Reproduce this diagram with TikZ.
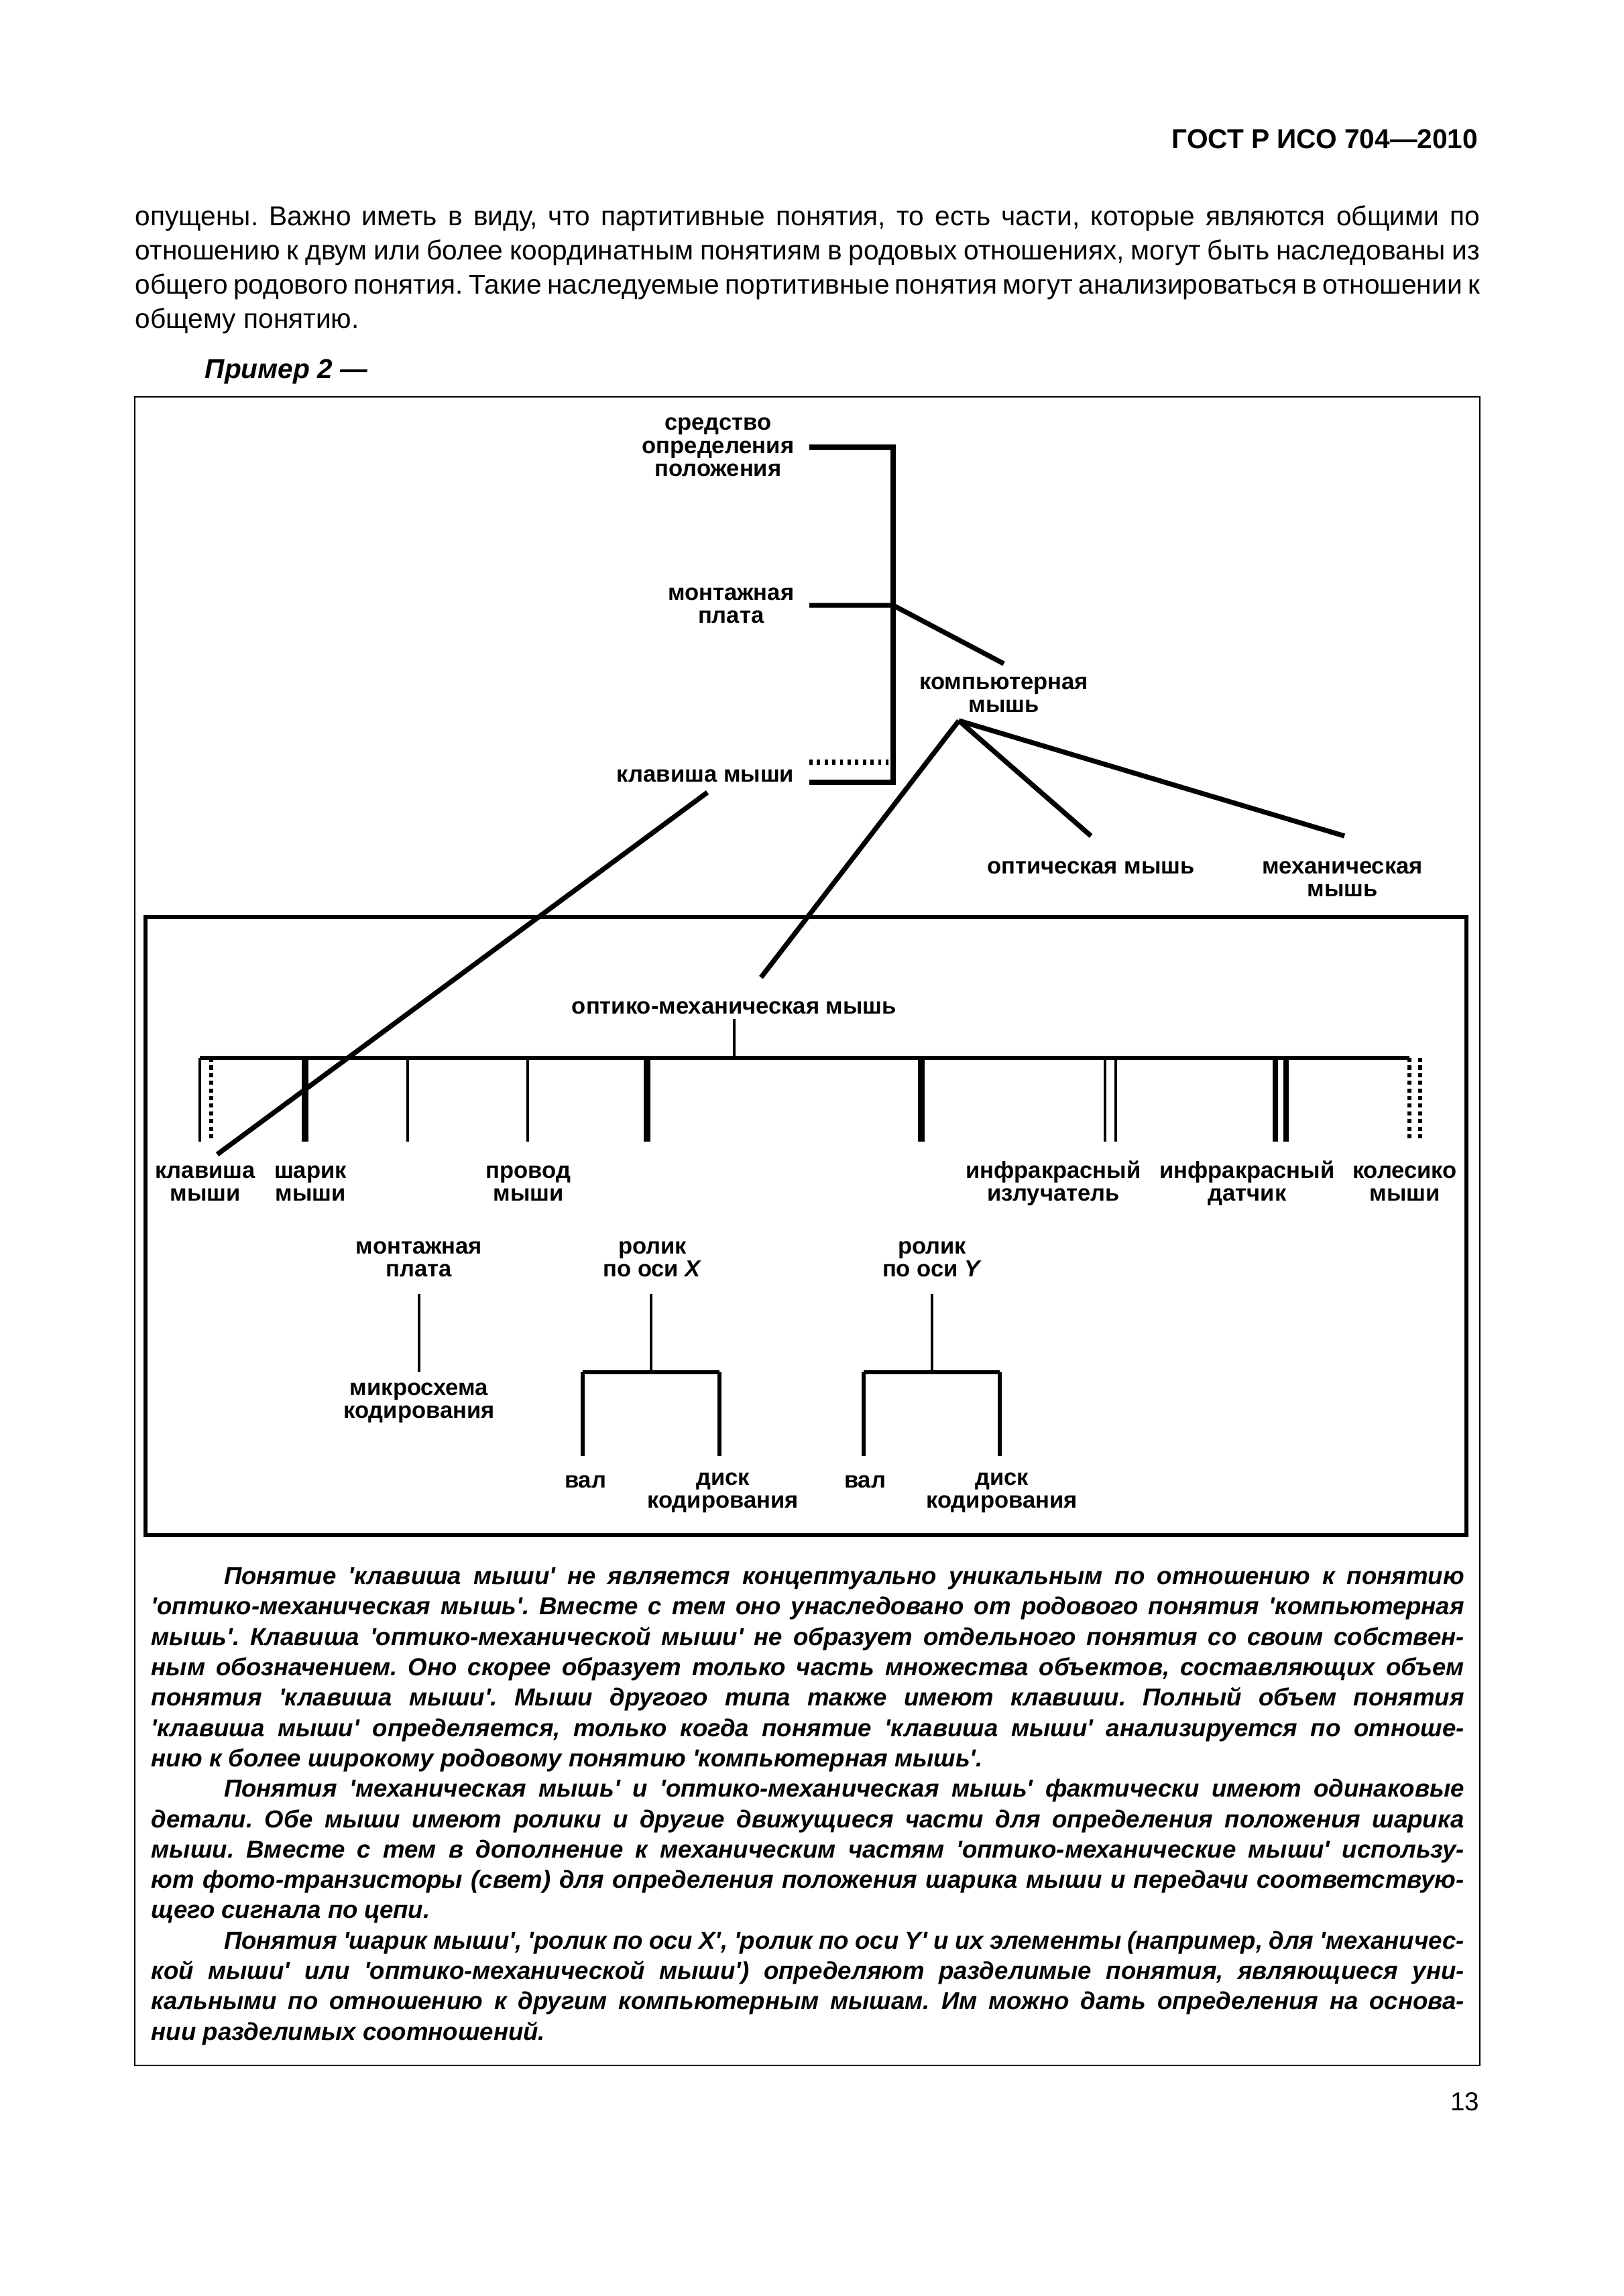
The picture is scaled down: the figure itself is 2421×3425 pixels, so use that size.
\documentclass[tikz,border=0pt]{standalone}
\usepackage{fontspec}
\setmainfont{Liberation Sans}[Ligatures=TeXOff]
\hyphenpenalty=10000
\exhyphenpenalty=10000
\tolerance=10000
\frenchspacing

\begin{document}
\begin{tikzpicture}[x=0.24588pt, y=-0.24588pt,
  term/.style={font=\fontsize{8.5}{8.4}\selectfont\bfseries, align=center, inner sep=0pt},
  genline/.style={line width=1.8pt},
  partbar/.style={line width=1.7pt},
  partthin/.style={line width=1.2pt},
  partthick/.style={line width=2.3pt},
  partdouble/.style={line width=1.8pt},
  partdash/.style={line width=1.5pt, dash pattern=on 1.5pt off 1.3pt},
  gentext/.style={inner sep=0pt, align=justify}]

\useasboundingbox (0,0) rectangle (2421,3425);
\fill[white] (0,0) rectangle (2421,3425);

% page head and text
\node[anchor=base east, inner sep=0pt, font=\fontsize{10}{12}\selectfont\bfseries] (head) at (2205,222) {ГОСТ Р ИСО 704—2010};
\node[gentext, anchor=north west, text width=493pt, font=\fontsize{10}{12.54}\selectfont] (intro) at (201,300)
  {\strut опущены. Важно иметь в виду, что партитивные понятия, то есть части, которые являются общими по\linebreak
   отношению к двум или более координатным понятиям в родовых отношениях, могут быть наследованы из\linebreak
   общего родового понятия. Такие наследуемые портитивные понятия могут анализироваться в отношении к\linebreak
   общему понятию.};
\node[anchor=base west, inner sep=0pt, font=\fontsize{10}{12}\selectfont\bfseries\itshape] (primer) at (305,565) {Пример 2 —};

\draw[line width=0.7pt] (201,592) rectangle (2207,3081);
\draw[line width=1.7pt] (217,1368) rectangle (2187,2290);

% generic concepts
\node[term, anchor=east] (sredstvo) at (1185,667) {средство\\определения\\положения};
\node[term, anchor=east] (plata) at (1185,903) {монтажная\\плата};
\node[term, anchor=east] (klav) at (1185,1157) {клавиша мыши};
\node[term] (komp) at (1497,1036) {компьютерная\\мышь};
\node[term] (optm) at (1627,1294) {оптическая мышь};
\node[term] (mehm) at (2002,1311) {механическая\\мышь};

\coordinate (s1) at (1207,667);
\coordinate (s2) at (1207,903);
\coordinate (s3) at (1207,1137);
\coordinate (s4) at (1207,1167);
\coordinate (j1) at (1332,667);
\coordinate (j2) at (1332,903);
\coordinate (j3) at (1325,1137);
\coordinate (j4) at (1332,1167);
\coordinate (kt) at (1497,990);
\coordinate (kb) at (1430,1075);
\coordinate (ot) at (1627,1247);
\coordinate (mt) at (2005,1247);
\coordinate (omt) at (1135,1458);
\coordinate (kl1) at (1055,1182);
\coordinate (kl2) at (324,1722);

\draw[genline] (s1) -- (j1) -- (j4) -- (s4);
\draw[genline] (s2) -- (j2) -- (kt);
\draw[genline, dash pattern=on 1.2pt off 1.6pt] (s3) -- (j3);
\draw[genline] (kb) -- (ot);
\draw[genline] (kb) -- (mt);
\draw[genline] (kb) -- (omt);
\draw[genline] (kl1) -- (kl2);

% partitive concepts
\node[term] (opmeh) at (1095,1503) {оптико-механическая мышь};
\coordinate (oa) at (1095,1520);
\coordinate (ob) at (1095,1578);
\coordinate (bl) at (298,1578);
\coordinate (br) at (2102,1578);
\coordinate (cut) at (0,1703);
\draw[partthin] (oa) -- (ob);
\draw[partbar] (bl) -- (br);
\foreach \x in {298,608,787,1648,1664} {
  \coordinate (b\x) at (\x,1578);
  \draw[partthin] (b\x) -- (b\x |- cut);
}
\foreach \x in {455,965,1374} {
  \coordinate (b\x) at (\x,1578);
  \draw[partthick] (b\x) -- (b\x |- cut);
}
\foreach \x in {1902,1918} {
  \coordinate (b\x) at (\x,1578);
  \draw[partdouble] (b\x) -- (b\x |- cut);
}
\foreach \x in {315,2102,2118} {
  \coordinate (b\x) at (\x,1578);
  \draw[partdash] (b\x) -- (b\x |- cut);
}

\node[term] (klm) at (306,1765) {клавиша\\мыши};
\node[term] (shm) at (463,1765) {шарик\\мыши};
\node[term] (prm) at (788,1765) {провод\\мыши};
\node[term] (irl) at (1571,1765) {инфракрасный\\излучатель};
\node[term] (ird) at (1860,1765) {инфракрасный\\датчик};
\node[term] (kol) at (2095,1765) {колесико\\мыши};

\node[term] (mpl) at (625,1878) {монтажная\\плата};
\node[term] (rx) at (973,1878) {ролик\\по оси \textit{X}};
\node[term] (ry) at (1390,1878) {ролик\\по оси \textit{Y}};
\node[term] (mk) at (625,2093) {микросхема\\кодирования};
\node[term] (val1) at (873,2210) {вал};
\node[term] (disk1) at (1078,2227) {диск\\кодирования};
\node[term] (val2) at (1290,2210) {вал};
\node[term] (disk2) at (1494,2227) {диск\\кодирования};

\coordinate (ma) at (625,1930);
\coordinate (mb) at (625,2047);
\coordinate (xa) at (971,1930);
\coordinate (xb) at (971,2047);
\coordinate (xl) at (869,2047);
\coordinate (xr) at (1073,2047);
\coordinate (ya) at (1390,1930);
\coordinate (yb) at (1390,2047);
\coordinate (yl) at (1288,2047);
\coordinate (yr) at (1491,2047);
\coordinate (low) at (0,2172);

\draw[partthin] (ma) -- (mb);
\draw[partthin] (xa) -- (xb);
\draw[partbar] (xl) -- (xr);
\draw[partdash, solid] (xl) -- (xl |- low);
\draw[partdash, solid] (xr) -- (xr |- low);
\draw[partthin] (ya) -- (yb);
\draw[partbar] (yl) -- (yr);
\draw[partdash, solid] (yl) -- (yl |- low);
\draw[partdash, solid] (yr) -- (yr |- low);

% note
\node[gentext, anchor=north west, text width=481.4pt, font=\fontsize{9}{11.14}\selectfont\bfseries\itshape] (note) at (225,2331)
  {\strut\hspace*{26.6pt}Понятие 'клавиша мыши' не является концептуально уникальным по отношению к понятию\linebreak
   'оптико-механическая мышь'. Вместе с тем оно унаследовано от родового понятия 'компьютерная\linebreak
   мышь'. Клавиша 'оптико-механической мыши' не образует отдельного понятия со своим собствен-\linebreak
   ным обозначением. Оно скорее образует только часть множества объектов, составляющих объем\linebreak
   понятия 'клавиша мыши'. Мыши другого типа также имеют клавиши. Полный объем понятия\linebreak
   'клавиша мыши' определяется, только когда понятие 'клавиша мыши' анализируется по отноше-\linebreak
   нию к более широкому родовому понятию 'компьютерная мышь'.\par
   \hspace*{26.6pt}Понятия 'механическая мышь' и 'оптико-механическая мышь' фактически имеют одинаковые\linebreak
   детали. Обе мыши имеют ролики и другие движущиеся части для определения положения шарика\linebreak
   мыши. Вместе с тем в дополнение к механическим частям 'оптико-механические мыши' использу-\linebreak
   ют фото-транзисторы (свет) для определения положения шарика мыши и передачи соответствую-\linebreak
   щего сигнала по цепи.\par
   \hspace*{26.6pt}Понятия 'шарик мыши', 'ролик по оси X', 'ролик по оси Y' и их элементы (например, для 'механичес-\linebreak
   кой мыши' или 'оптико-механической мыши') определяют разделимые понятия, являющиеся уни-\linebreak
   кальными по отношению к другим компьютерным мышам. Им можно дать определения на основа-\linebreak
   нии разделимых соотношений.};

\node[anchor=base east, inner sep=0pt, font=\fontsize{9.5}{11}\selectfont] (page) at (2207,3148) {13};
\end{tikzpicture}
\end{document}
